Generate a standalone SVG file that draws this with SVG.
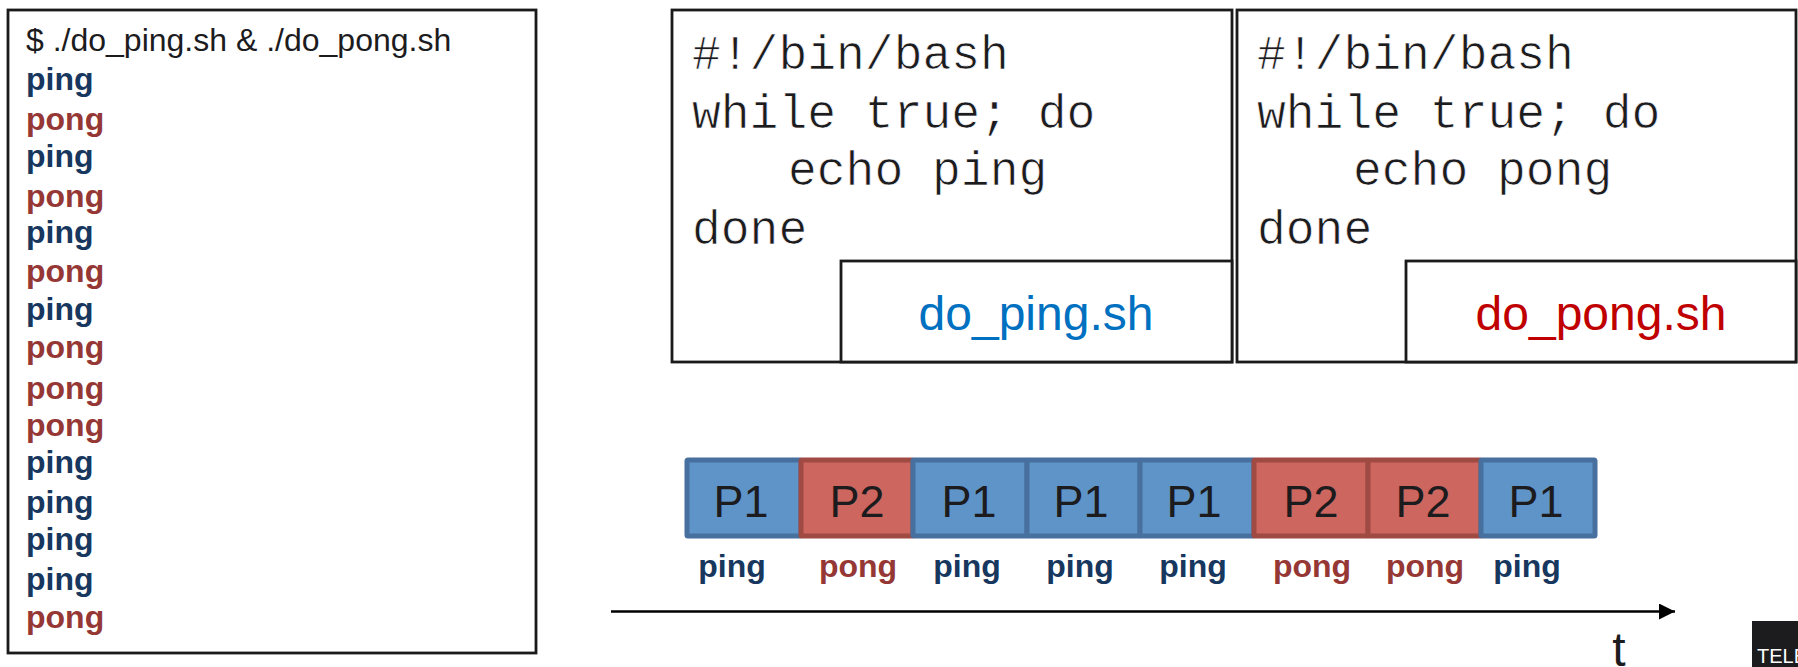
<svg xmlns="http://www.w3.org/2000/svg" width="1798" height="667" viewBox="0 0 1798 667">
<style>
.box{fill:#fff;stroke:#1a1a1a;stroke-width:2.8}
.out{font:32px "Liberation Sans",Arial,sans-serif;fill:#1c1b1e}
.pi{font:bold 32px "Liberation Sans",Arial,sans-serif;fill:#17375e}
.po{font:bold 32px "Liberation Sans",Arial,sans-serif;fill:#953735}
.code{font:48px "Liberation Mono","Courier New",monospace;fill:#1c1b1e;stroke:#fff;stroke-width:.7;paint-order:fill}
.fn{font:48px "Liberation Sans",Arial,sans-serif;text-anchor:middle}
.c1{fill:#5f94c9;stroke:#47709f;stroke-width:5}
.c2{fill:#cc665f;stroke:#a04a44;stroke-width:5}
.cl{font:45px "Liberation Sans",Arial,sans-serif;fill:#1c1b1e;text-anchor:middle}
.m{text-anchor:middle}
</style>
<defs><marker id="ah" markerUnits="userSpaceOnUse" markerWidth="16" markerHeight="16" refX="16" refY="8" orient="auto"><path d="M0 0L16 8L0 16Z" fill="#000"/></marker></defs>
<g id="terminal">
<rect class="box" x="8" y="10" width="528" height="643"/>
<text class="out" x="26" y="51">$ ./do_ping.sh &amp; ./do_pong.sh</text>
<text class="pi" x="26" y="90">ping</text>
<text class="po" x="26" y="130">pong</text>
<text class="pi" x="26" y="167">ping</text>
<text class="po" x="26" y="207">pong</text>
<text class="pi" x="26" y="243">ping</text>
<text class="po" x="26" y="282">pong</text>
<text class="pi" x="26" y="320">ping</text>
<text class="po" x="26" y="358">pong</text>
<text class="po" x="26" y="399">pong</text>
<text class="po" x="26" y="436">pong</text>
<text class="pi" x="26" y="473">ping</text>
<text class="pi" x="26" y="513">ping</text>
<text class="pi" x="26" y="550">ping</text>
<text class="pi" x="26" y="590">ping</text>
<text class="po" x="26" y="628">pong</text>
</g>
<g id="do_ping">
<rect class="box" x="672" y="10" width="560" height="352"/>
<rect class="box" x="841" y="261" width="391" height="101"/>
<text class="code" x="692" y="69">#!/bin/bash</text>
<text class="code" x="692" y="128">while true; do</text>
<text class="code" x="788" y="185">echo ping</text>
<text class="code" x="692" y="244">done</text>
<text class="fn" x="1036" y="330" fill="#0070c0">do_ping.sh</text>
</g>
<g id="do_pong">
<rect class="box" x="1237" y="10" width="559" height="352"/>
<rect class="box" x="1406" y="261" width="390" height="101"/>
<text class="code" x="1257" y="69">#!/bin/bash</text>
<text class="code" x="1257" y="128">while true; do</text>
<text class="code" x="1353" y="185">echo pong</text>
<text class="code" x="1257" y="244">done</text>
<text class="fn" x="1601" y="330" fill="#c00000">do_pong.sh</text>
</g>
<g id="timeline">
<rect class="c1" x="687" y="460" width="114" height="76" rx="1"/>
<rect class="c2" x="801" y="460" width="112" height="76" rx="1"/>
<rect class="c1" x="913" y="460" width="114" height="76" rx="1"/>
<rect class="c1" x="1027" y="460" width="113" height="76" rx="1"/>
<rect class="c1" x="1140" y="460" width="114" height="76" rx="1"/>
<rect class="c2" x="1254" y="460" width="114" height="76" rx="1"/>
<rect class="c2" x="1368" y="460" width="113" height="76" rx="1"/>
<rect class="c1" x="1481" y="460" width="114" height="76" rx="1"/>
<text class="cl" x="741" y="517">P1</text>
<text class="cl" x="857" y="517">P2</text>
<text class="cl" x="969" y="517">P1</text>
<text class="cl" x="1081" y="517">P1</text>
<text class="cl" x="1194" y="517">P1</text>
<text class="cl" x="1311" y="517">P2</text>
<text class="cl" x="1423" y="517">P2</text>
<text class="cl" x="1536" y="517">P1</text>
<text class="pi m" x="732" y="577">ping</text>
<text class="po m" x="858" y="577">pong</text>
<text class="pi m" x="967" y="577">ping</text>
<text class="pi m" x="1080" y="577">ping</text>
<text class="pi m" x="1193" y="577">ping</text>
<text class="po m" x="1312" y="577">pong</text>
<text class="po m" x="1425" y="577">pong</text>
<text class="pi m" x="1527" y="577">ping</text>
</g>
<g id="connectors">
<line x1="611" y1="611.5" x2="1675" y2="611.5" stroke="#000" stroke-width="2.6" marker-end="url(#ah)"/>
</g>
<g id="axis-label">
<text x="1619" y="666" font-family="Liberation Sans, Arial, sans-serif" font-size="48" fill="#1c1b1e" text-anchor="middle">t</text>
</g>
<g id="logo">
<rect x="1752" y="621" width="46" height="46" fill="#1c1b1e"/>
<text x="1757" y="663" font-family="Liberation Sans, Arial, sans-serif" font-size="20" fill="#fff">TELE</text>
</g>
</svg>
